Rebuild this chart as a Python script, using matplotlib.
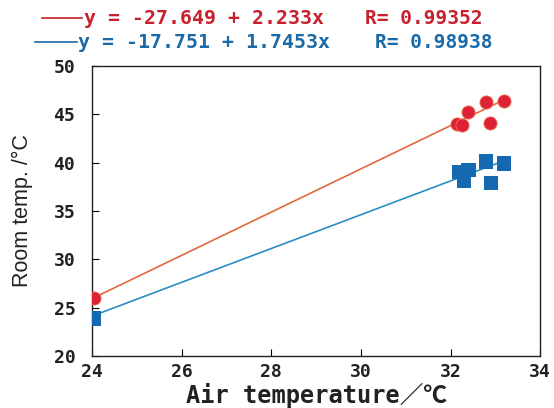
import numpy as np
import matplotlib.pyplot as plt

# data
red_x = [24.05, 32.15, 32.25, 32.4, 32.79, 33.2, 32.88]
red_y = [26.0, 44.0, 43.9, 45.2, 46.3, 46.4, 44.1]
blue_x = [24.05, 32.2, 32.4, 32.3, 32.8, 33.2, 32.9]
blue_y = [23.9, 39.0, 39.2, 38.1, 40.1, 39.9, 37.9]

red_fit = (-27.649, 2.233)
blue_fit = (-17.751, 1.7453)
red_label = "y = -27.649 + 2.233x"
blue_label = "y = -17.751 + 1.7453x"
red_r = "R= 0.99352"
blue_r = "R= 0.98938"

red_pt = '#dd2236'
red_ln = '#e2683e'
blue_pt = '#1569b0'
blue_ln = '#2b8cc4'
red_txt = '#c8202c'
blue_txt = '#1a6aa8'

fig = plt.figure(figsize=(5.54, 4.08), dpi=100)
ax = fig.add_axes([0.166, 0.127, 0.809, 0.712])

xl = np.array([24.05, 33.2])
ax.plot(xl, red_fit[0] + red_fit[1] * xl, color=red_ln, lw=1.2, zorder=2)
ax.plot(xl, blue_fit[0] + blue_fit[1] * xl, color=blue_ln, lw=1.2, zorder=2)
ax.scatter(red_x, red_y, s=90, marker='o', color=red_pt, edgecolor='#f07050', lw=0.6, zorder=3)
ax.scatter(blue_x, blue_y, s=105, marker='s', color=blue_pt, edgecolor='none', zorder=3)

ax.set_xlim(24, 34)
ax.set_ylim(20, 50)
ax.set_xticks(range(24, 35, 2))
ax.set_yticks(range(20, 51, 5))
ax.tick_params(direction='in', length=5, width=0.8)
ax.tick_params(axis='y', pad=12)
ax.tick_params(axis='x', pad=5)
for lab in ax.get_xticklabels() + ax.get_yticklabels():
    lab.set_fontfamily('DejaVu Sans Mono')
    lab.set_fontweight('bold')
    lab.set_fontsize(13)
    lab.set_color('#222222')
for s in ax.spines.values():
    s.set_linewidth(1.0)
    s.set_color('#222222')

ax.set_xlabel('Air temperature／℃', family=['DejaVu Sans Mono', 'Noto Sans CJK JP'],
              fontweight='bold', fontsize=17, color='#222222', labelpad=1)
ax.set_ylabel('Room temp. /°C', family='Liberation Sans', fontsize=15.5,
              color='#222222', labelpad=15)

# equations at the top
fig.add_artist(plt.Line2D([42 / 554, 82 / 554], [1 - 18 / 408] * 2, color=red_txt, lw=1.2))
fig.add_artist(plt.Line2D([35 / 554, 77 / 554], [1 - 42 / 408] * 2, color=blue_txt, lw=1.2))
fig.text(84 / 554, 1 - 18 / 408, red_label, color=red_txt, family='DejaVu Sans Mono',
         fontweight='bold', fontsize=14.3, va='center')
fig.text(365 / 554, 1 - 18 / 408, red_r, color=red_txt, family='DejaVu Sans Mono',
         fontweight='bold', fontsize=14, va='center')
fig.text(78 / 554, 1 - 42 / 408, blue_label, color=blue_txt, family='DejaVu Sans Mono',
         fontweight='bold', fontsize=14.3, va='center')
fig.text(375 / 554, 1 - 42 / 408, blue_r, color=blue_txt, family='DejaVu Sans Mono',
         fontweight='bold', fontsize=14, va='center')

fig.savefig('out.png', dpi=100)
